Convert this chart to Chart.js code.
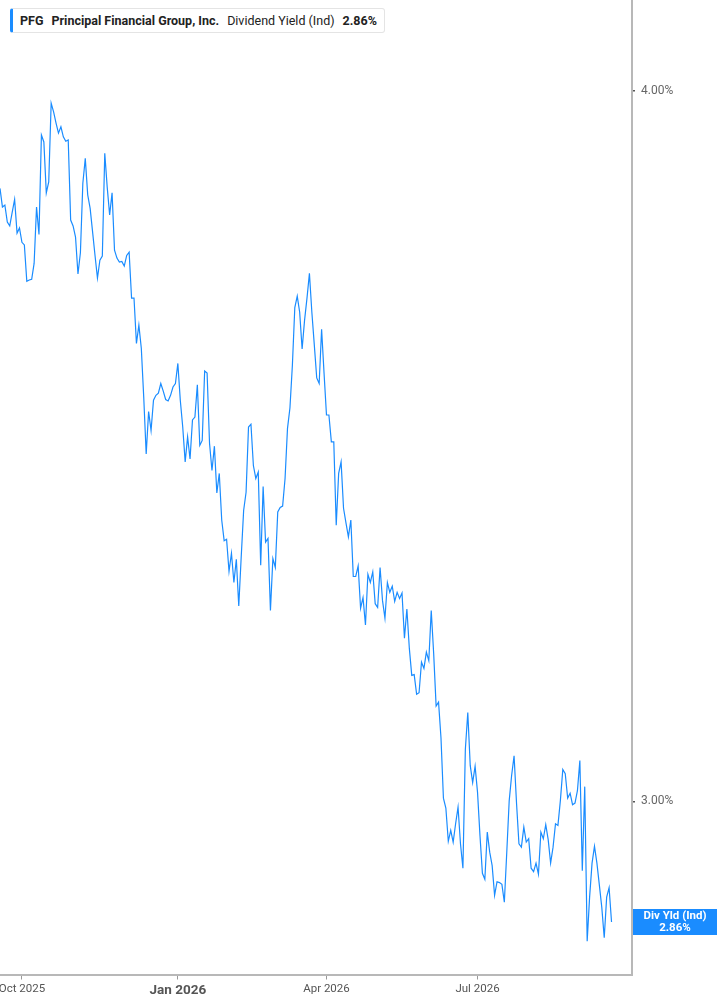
<!DOCTYPE html>
<html>
<head>
<meta charset="utf-8">
<script src="https://cdn.jsdelivr.net/npm/chart.js@4.4.1/dist/chart.umd.min.js"></script>
<style>
  html, body { margin:0; padding:0; background:#fff; }
  #wrap { position:relative; width:717px; height:1005px; }
  #legend {
    position:absolute; left:10px; top:8px; height:25px; box-sizing:border-box;
    border:1px solid #e4e4e4; border-left:3px solid #1a8cff; border-radius:3px;
    background:#fff; display:flex; align-items:center; padding:0 7px;
    font-family: Roboto, "Noto Sans", sans-serif; font-size:12.5px; color:#222; white-space:nowrap;
  }
  #legend span { margin-left:8px; }
  #legend span:first-child { margin-left:0; }
  .b { font-weight:bold; }
</style>
</head>
<body>
<div id="wrap">
  <canvas id="c" width="717" height="1005"></canvas>
  <div id="legend">
    <span class="b" id="lgTicker"></span>
    <span class="b" id="lgName"></span>
    <span id="lgMetric"></span>
    <span class="b" id="lgValue"></span>
  </div>
</div>
<script>
// ---- Data (trading-day series, 18 Sep 2025 .. 18 Sep 2026) ----
const ticker = "PFG";
const companyName = "Principal Financial Group, Inc.";
const metricName = "Dividend Yield (Ind)";
const metricShort = "Div Yld (Ind)";

// Dividend yield, % (one value per trading day)
const yieldSep2025 = [3.845, 3.816, 3.819, 3.793, 3.787, 3.808, 3.828, 3.776, 3.784];
const yieldQ4_2025 = [
  3.762, 3.758, 3.703, 3.705, 3.706, 3.730, 3.816, 3.774, 3.929, 3.918,
  3.838, 3.855, 3.980, 3.966, 3.948, 3.932, 3.942, 3.926, 3.919, 3.921,
  3.796, 3.787, 3.770, 3.714, 3.746, 3.853, 3.892,
  3.835, 3.814, 3.778, 3.742, 3.708, 3.735, 3.741, 3.900, 3.847, 3.804,
  3.838, 3.750, 3.738, 3.732, 3.733, 3.726, 3.742, 3.747, 3.678, 3.678,
  3.611, 3.638, 3.604, 3.533, 3.453, 3.513, 3.486, 3.529, 3.536, 3.539,
  3.553, 3.542,
  3.530, 3.528, 3.536, 3.548, 3.553
];
const yieldQ1_2026 = [
  3.582, 3.529, 3.491, 3.442, 3.477, 3.446, 3.501, 3.505, 3.551, 3.465,
  3.472, 3.571, 3.568, 3.468, 3.430, 3.464, 3.399, 3.426, 3.362, 3.334,
  3.336, 3.293, 3.317, 3.278, 3.309, 3.247, 3.312,
  3.375, 3.400, 3.491, 3.495, 3.437, 3.419, 3.428, 3.301, 3.408, 3.332,
  3.337, 3.241, 3.310, 3.298, 3.373, 3.379, 3.381, 3.419, 3.489, 3.518,
  3.579, 3.664, 3.681, 3.657, 3.603, 3.645, 3.678, 3.715, 3.657, 3.609,
  3.561, 3.553, 3.632, 3.568
];
const yieldQ2_2026 = [
  3.508,
  3.508, 3.470, 3.470, 3.355, 3.426, 3.442, 3.378, 3.358, 3.339, 3.362,
  3.286, 3.286, 3.300, 3.244, 3.258, 3.222, 3.289, 3.278, 3.292, 3.250,
  3.245, 3.298, 3.254, 3.231, 3.278, 3.265, 3.273, 3.253, 3.265, 3.257,
  3.264,
  3.205, 3.243, 3.192, 3.157, 3.158, 3.133, 3.135, 3.174, 3.166, 3.187,
  3.176, 3.241, 3.185, 3.118, 3.123, 3.078, 3.004, 2.992, 2.952, 2.965,
  2.951, 2.973, 2.993, 2.949, 2.920, 3.064, 3.110, 3.044, 3.023, 3.043
];
const yieldQ3_2026 = [
  3.011, 2.959,
  2.914, 2.907, 2.963, 2.939, 2.923, 2.888, 2.904, 2.903, 2.901, 2.880,
  2.939, 3.001, 3.032, 3.056, 2.998, 2.949, 2.945, 2.969, 2.951, 2.955,
  2.920, 2.916, 2.926, 2.913, 2.963, 2.955, 2.972, 2.954, 2.926, 2.945,
  2.973, 2.971,
  3.001, 3.039, 3.034, 3.004, 3.010, 2.996, 2.998, 3.013, 3.050, 2.917,
  3.018, 2.835, 2.886, 2.926, 2.946, 2.926, 2.900, 2.874, 2.839, 2.886,
  2.897, 2.857
];

// x-axis: trading-day index of each labelled month start
const xTickIndex  = [9, 73, 134, 196];
const xTickLabels = ["Oct 2025", "Jan 2026", "Apr 2026", "Jul 2026"];
// y-axis ticks (%)
const yTickValues = [3.0, 4.0];

// ---- build ----
const divYield = [].concat(yieldSep2025, yieldQ4_2025, yieldQ1_2026, yieldQ2_2026, yieldQ3_2026);
const points = divYield.map((v, i) => ({ x: i, y: v }));
const lastVal = divYield[divYield.length - 1];

document.getElementById('lgTicker').textContent = ticker;
document.getElementById('lgName').textContent = companyName;
document.getElementById('lgMetric').textContent = metricName;
document.getElementById('lgValue').textContent = lastVal.toFixed(2) + '%';

const FONT = 'Roboto, "Noto Sans", sans-serif';
const LINE = '#1a8cff';

const endLabel = {
  id: 'endLabel',
  afterDraw(chart) {
    const ctx = chart.ctx, ys = chart.scales.y, ca = chart.chartArea;
    const y = ys.getPixelForValue(lastVal);
    const x0 = ca.right + 1, x1 = chart.width;
    ctx.save();
    ctx.fillStyle = LINE;
    ctx.fillRect(x0, Math.round(y - 13), x1 - x0, 26);
    ctx.fillStyle = '#fff';
    ctx.font = 'bold 11.5px ' + FONT;
    ctx.textAlign = 'center';
    ctx.textBaseline = 'middle';
    const cx = (x0 + x1) / 2;
    ctx.fillText(metricShort, cx, y - 6);
    ctx.fillText(lastVal.toFixed(2) + '%', cx, y + 6);
    ctx.restore();
  }
};

new Chart(document.getElementById('c'), {
  type: 'line',
  data: {
    datasets: [{
      data: points,
      borderColor: LINE,
      borderWidth: 1.2,
      pointRadius: 0,
      tension: 0,
      fill: false
    }]
  },
  options: {
    responsive: false,
    animation: false,
    devicePixelRatio: 1,
    layout: { padding: 0 },
    plugins: { legend: { display: false }, tooltip: { enabled: false } },
    scales: {
      x: {
        type: 'linear',
        position: 'bottom',
        min: 0,
        max: 259.4,
        afterBuildTicks: s => { s.ticks = xTickIndex.map(v => ({ value: v })); },
        afterFit: s => { s.height = 30.5; s.paddingLeft = 0; s.paddingRight = 0; },
        ticks: {
          autoSkip: false,
          maxRotation: 0,
          padding: 3,
          color: '#555',
          callback: v => { const k = xTickIndex.indexOf(v); return k >= 0 ? xTickLabels[k] : ''; },
          font: ctx => {
            const k = ctx.tick ? xTickIndex.indexOf(ctx.tick.value) : -1;
            const isYear = k >= 0 && xTickLabels[k].startsWith('Jan');
            return isYear ? { family: FONT, size: 13.5, weight: 'bold' } : { family: FONT, size: 11.5 };
          }
        },
        grid: { drawOnChartArea: false, drawTicks: true, tickLength: 5, color: '#999', lineWidth: 1 },
        border: { display: true, color: '#b8b8b8', width: 2 }
      },
      y: {
        type: 'logarithmic',
        position: 'right',
        min: 2.797,
        max: 4.1497,
        bounds: 'data',
        afterBuildTicks: s => { s.ticks = yTickValues.map(v => ({ value: v })); },
        afterFit: s => { s.width = 717 - 632; s.paddingTop = 0; s.paddingBottom = 0; },
        ticks: {
          padding: 6,
          color: '#666',
          font: { family: FONT, size: 12 },
          callback: v => Number(v).toFixed(2) + '%'
        },
        grid: { drawOnChartArea: false, drawTicks: true, tickLength: 3, color: '#555', lineWidth: 1.5 },
        border: { display: true, color: '#b8b8b8', width: 2 }
      }
    }
  },
  plugins: [endLabel]
});
</script>
</body>
</html>
